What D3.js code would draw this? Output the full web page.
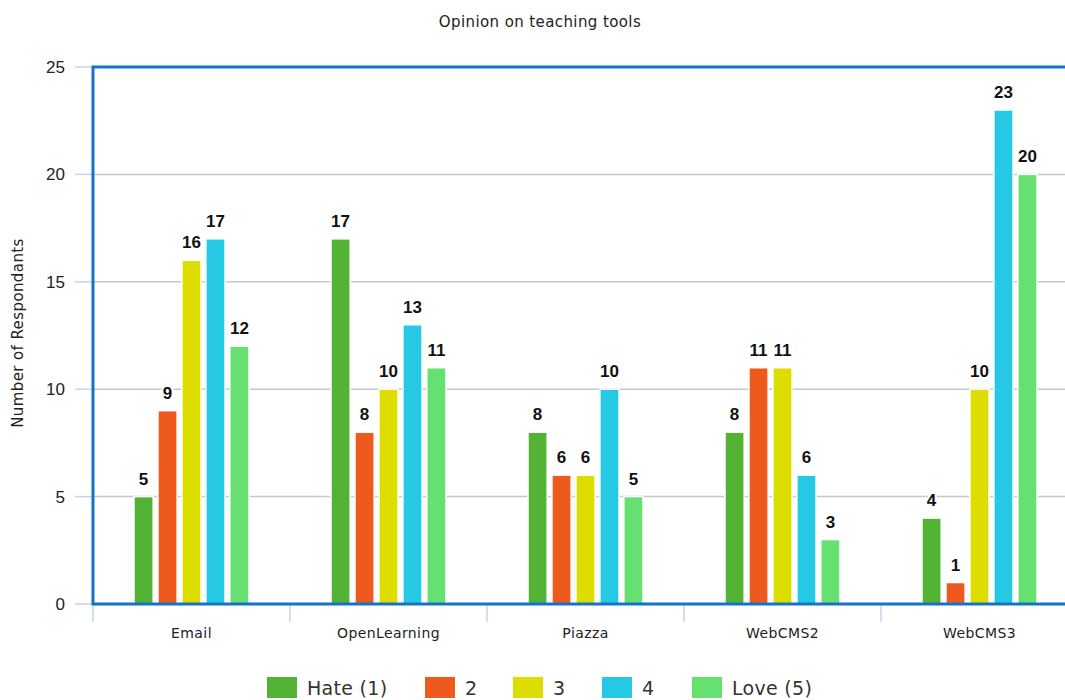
<!DOCTYPE html>
<html>
<head>
<meta charset="utf-8">
<script src="https://cdn.jsdelivr.net/npm/d3@7"></script>
<style>
body { margin: 0; background: #fff; overflow: hidden; }
text { font-family: "DejaVu Sans", sans-serif; }
</style>
</head>
<body>
<div id="chart"></div>
<script>
var width = 1065;
var height = 700;

var categories = ["Email", "OpenLearning", "Piazza", "WebCMS2", "WebCMS3"];
var seriesNames = ["Hate (1)", "2", "3", "4", "Love (5)"];
var seriesColors = ["#52b335", "#ee5a1e", "#dddd00", "#25c9e4", "#66e070"];
// values per series, one per category
var hate = [5, 17, 8, 8, 4];
var two = [9, 8, 6, 11, 1];
var three = [16, 10, 6, 11, 10];
var four = [17, 13, 10, 6, 23];
var love = [12, 11, 5, 3, 20];
var yTicks = [0, 5, 10, 15, 20, 25];

var series = [hate, two, three, four, love];

var plotLeft = 93, plotTop = 67, plotBottom = 604, plotRight = 1078;
var groupWidth = 115;

var svg = d3.select("#chart").append("svg")
    .attr("width", width).attr("height", height);

var x = d3.scaleBand().domain(categories).range([plotLeft, plotRight]);
var xInner = d3.scaleBand().domain(d3.range(5)).range([0, groupWidth]).paddingInner(0.2);
var y = d3.scaleLinear().domain([0, 25]).range([plotBottom, plotTop]);

// title
svg.append("text")
    .attr("x", 540).attr("y", 27)
    .attr("text-anchor", "middle")
    .style("font-size", "15px")
    .style("letter-spacing", "0.4px")
    .style("fill", "#222")
    .text("Opinion on teaching tools");

// grid lines
svg.selectAll(".grid").data(yTicks).enter().append("line")
    .attr("x1", plotLeft).attr("x2", plotRight)
    .attr("y1", function(d) { return y(d); })
    .attr("y2", function(d) { return y(d); })
    .style("stroke", "#c8c8c8")
    .style("stroke-width", 1.5);

// y tick marks
svg.selectAll(".ytick").data(yTicks).enter().append("line")
    .attr("x1", 75).attr("x2", plotLeft)
    .attr("y1", function(d) { return y(d); })
    .attr("y2", function(d) { return y(d); })
    .style("stroke", "#c5d5e8")
    .style("stroke-width", 1.5);

svg.selectAll(".ylab").data(yTicks).enter().append("text")
    .attr("x", 65).attr("y", function(d) { return y(d) + 6; })
    .attr("text-anchor", "end")
    .style("font-family", "'Liberation Sans', Arial, sans-serif")
    .style("font-size", "17px")
    .style("fill", "#222")
    .text(function(d) { return d; });

// x tick marks
var xTickPos = categories.map(function(c) { return x(c); }).concat([plotRight]);
svg.selectAll(".xtick").data(xTickPos).enter().append("line")
    .attr("x1", function(d) { return d; }).attr("x2", function(d) { return d; })
    .attr("y1", plotBottom).attr("y2", 622)
    .style("stroke", "#c5d5e8")
    .style("stroke-width", 1.5);

svg.selectAll(".xlab").data(categories).enter().append("text")
    .attr("x", function(d) { return x(d) + x.bandwidth() / 2; })
    .attr("y", 638)
    .attr("text-anchor", "middle")
    .style("font-size", "14px")
    .style("letter-spacing", "0.4px")
    .style("fill", "#222")
    .text(function(d) { return d; });

// y axis title
svg.append("text")
    .attr("transform", "translate(23," + 333 + ") rotate(-90)")
    .attr("text-anchor", "middle")
    .style("font-size", "15px")
    .style("letter-spacing", "0.4px")
    .style("fill", "#222")
    .text("Number of Respondants");

// bars
var groupOffset = (x.bandwidth() - groupWidth) / 2;
for (let s = 0; s < series.length; s++) {
    let g = svg.append("g");
    g.selectAll("rect").data(series[s]).enter().append("rect")
        .attr("x", function(d, i) { return x(categories[i]) + groupOffset + xInner(s); })
        .attr("y", function(d) { return y(d); })
        .attr("width", xInner.bandwidth())
        .attr("height", function(d) { return plotBottom - y(d); })
        .style("fill", seriesColors[s])
        .style("stroke", "#fff")
        .style("stroke-width", 1.5);
    g.selectAll("text").data(series[s]).enter().append("text")
        .attr("x", function(d, i) { return x(categories[i]) + groupOffset + xInner(s) + xInner.bandwidth() / 2; })
        .attr("y", function(d) { return y(d) - 12; })
        .attr("text-anchor", "middle")
        .style("font-family", "'Liberation Sans', Arial, sans-serif")
        .style("font-size", "17px")
        .style("font-weight", "bold")
        .style("fill", "#111")
        .style("stroke", "#fff")
        .style("stroke-width", 4)
        .style("paint-order", "stroke")
        .text(function(d) { return d; });
}

// plot border
svg.append("rect")
    .attr("x", plotLeft).attr("y", plotTop)
    .attr("width", plotRight - plotLeft).attr("height", plotBottom - plotTop)
    .style("fill", "none")
    .style("stroke", "#1472c8")
    .style("stroke-width", 3);

// legend
var legendX = [267, 425, 513, 602, 692];
var legend = svg.selectAll(".legend").data(seriesNames).enter().append("g")
    .attr("transform", function(d, i) { return "translate(" + legendX[i] + ",677)"; });
legend.append("rect")
    .attr("width", 30).attr("height", 21)
    .style("fill", function(d, i) { return seriesColors[i]; });
legend.append("text")
    .attr("x", 40).attr("y", 18)
    .style("font-size", "19px")
    .style("letter-spacing", "0.3px")
    .style("fill", "#333")
    .text(function(d) { return d; });
</script>
</body>
</html>
